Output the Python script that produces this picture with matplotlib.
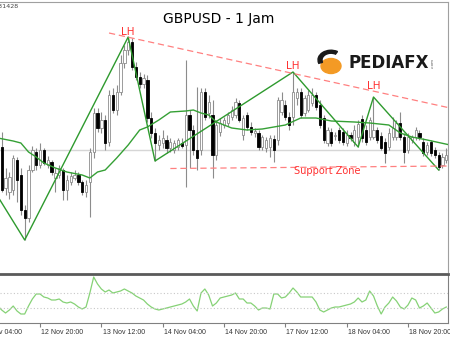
import numpy as np
import matplotlib
matplotlib.use("Agg")
import matplotlib.pyplot as plt
from matplotlib.patches import Circle, Wedge
from matplotlib.transforms import blended_transform_factory

# hourly bars, price in pips above 1.3000
bars = np.arange(6, 123)
opens = [123, 82, 78, 80, 110, 95, 60, 52, 100, 118,
         105, 120, 105, 108, 92, 95, 100, 80, 88, 92,
         95, 88, 78, 88, 118, 157, 142, 150, 128, 175,
         160, 178, 207, 220, 228, 203, 193, 186, 190, 152,
         137, 125, 127, 130, 122, 120, 123, 127, 125, 155,
         140, 120, 120, 178, 157, 155, 115, 138, 145, 147,
         153, 155, 167, 135, 155, 143, 137, 137, 123, 122,
         123, 131, 130, 158, 165, 153, 153, 172, 178, 157,
         160, 167, 175, 165, 152, 127, 138, 134, 140, 138,
         127, 135, 128, 133, 151, 140, 133, 133, 140, 134,
         128, 123, 133, 133, 147, 133, 120, 130, 133, 137,
         128, 118, 128, 120, 115, 105, 110]
highs = [138, 102, 98, 115, 113, 102, 65, 105, 124, 122,
         127, 122, 114, 110, 102, 105, 102, 95, 98, 100,
         98, 90, 90, 122, 162, 162, 158, 155, 180, 182,
         185, 215, 225, 233, 232, 208, 198, 196, 195, 158,
         142, 135, 140, 135, 132, 130, 132, 132, 210, 160,
         145, 183, 182, 182, 175, 170, 150, 152, 153, 158,
         164, 172, 170, 155, 158, 148, 142, 140, 135, 133,
         135, 135, 173, 178, 170, 158, 198, 182, 182, 175,
         180, 182, 178, 170, 155, 143, 142, 138, 143, 142,
         140, 138, 145, 150, 155, 145, 153, 173, 143, 138,
         132, 142, 153, 150, 158, 137, 137, 135, 143, 140,
         132, 128, 130, 123, 118, 117, 122]
lows = [78, 75, 71, 75, 68, 55, 30, 48, 98, 100,
        102, 105, 102, 95, 78, 92, 70, 70, 85, 90,
        85, 75, 73, 53, 112, 138, 137, 120, 124, 157,
        155, 175, 202, 215, 200, 190, 182, 182, 148, 132,
        109, 120, 122, 117, 118, 117, 120, 122, 83, 102,
        115, 100, 115, 150, 152, 92, 110, 134, 142, 144,
        150, 152, 148, 130, 140, 135, 133, 120, 120, 118,
        113, 108, 125, 155, 150, 140, 145, 165, 152, 154,
        158, 164, 160, 142, 127, 124, 124, 130, 127, 125,
        124, 129, 124, 123, 128, 125, 130, 131, 127, 120,
        107, 120, 130, 130, 130, 107, 117, 127, 130, 130,
        114, 115, 114, 112, 100, 102, 107]
closes = [80, 92, 93, 112, 90, 60, 52, 100, 120, 105,
          120, 107, 110, 98, 97, 102, 80, 90, 94, 95,
          88, 78, 85, 118, 157, 142, 150, 127, 175, 160,
          178, 207, 220, 228, 203, 193, 186, 192, 152, 137,
          127, 130, 132, 122, 128, 127, 130, 124, 155, 140,
          120, 112, 178, 153, 168, 115, 145, 147, 150, 155,
          160, 168, 150, 152, 143, 138, 139, 123, 133, 130,
          132, 120, 170, 170, 153, 145, 178, 178, 155, 172,
          175, 175, 163, 145, 130, 140, 127, 135, 130, 128,
          135, 132, 140, 146, 132, 128, 150, 140, 130, 122,
          117, 137, 142, 147, 133, 118, 133, 133, 140, 133,
          117, 125, 117, 115, 103, 113, 115]

# moving average and zigzag (bar, pips)
ma_idx = [5, 9, 11, 13, 15, 17, 20, 23, 27, 29, 31, 33, 36, 39, 42, 44, 47, 50, 54,
          56, 58, 60, 62, 66, 70, 74, 80, 84, 88, 92, 98, 102, 107, 110, 113, 117, 123]
ma_val = [132, 129, 127, 118, 113, 107, 102, 98, 95, 92, 98, 100, 112, 125, 140, 143, 150, 158, 159,
          160, 157, 155, 148, 142, 140, 141, 145, 152, 152, 149, 148, 147, 145, 137, 133, 130, 125]
zz_idx = [2, 12, 39, 46, 82, 99, 103, 120]
zz_val = [92, 30, 233, 109, 198, 123, 173, 100]

trend_idx = [34, 123]
trend_val = [237, 162]
support_idx = [50, 123]
support_val = [101.5, 104]
lh_idx = [39, 82, 103]
lh_val = [238, 204, 184]
last_price = 120

# lower oscillator, bars 5..122
osc = [17, 13, 10, 13, 17, 12, 9, 9, 17, 24, 29, 29, 26, 25, 23, 23, 24, 21, 20, 21,
       19, 16, 14, 16, 30, 46, 39, 34, 31, 33, 30, 31, 32, 34, 32, 30, 27, 25, 23, 19,
       16, 14, 13, 14, 15, 16, 17, 18, 19, 21, 24, 17, 12, 30, 34, 28, 17, 20, 25, 26,
       27, 28, 30, 24, 24, 20, 20, 17, 13, 15, 15, 14, 29, 29, 25, 26, 30, 35, 31, 26,
       26, 26, 26, 21, 13, 11, 13, 15, 16, 16, 17, 18, 19, 21, 25, 21, 23, 32, 27, 17,
       9, 16, 20, 26, 22, 16, 14, 18, 25, 23, 15, 17, 20, 15, 10, 11, 14, 16]
osc_bars = np.arange(5, 123)
osc_levels = [15, 30]

tick_bars = [0, 16, 32, 48, 64, 80, 96, 112]
tick_labels = ["12 Nov 04:00", "12 Nov 20:00", "13 Nov 12:00", "14 Nov 04:00",
               "14 Nov 20:00", "17 Nov 12:00", "18 Nov 04:00", "18 Nov 20:00"]

W, H = 450, 338
def fx(x): return x / W
def fy(y): return 1 - y / H

fig = plt.figure(figsize=(4.5, 3.38), dpi=100)
ax = fig.add_axes([0, fy(272), fx(448), (272 - 2) / H])
ax2 = fig.add_axes([0, fy(323), fx(448), (323 - 274) / H])
xmin, xmax = 21.3 / 3.833, (448 + 21.3) / 3.833

o = np.array(opens); h = np.array(highs); l = np.array(lows); c = np.array(closes)
up = c >= o
ax.axhline(last_price, color="#d6d6d6", lw=1, zorder=0)
ax.vlines(bars, l, h, color="#8c8c8c", lw=0.8, zorder=1)
body = np.maximum(np.abs(c - o), 0.8)
ax.bar(bars[up], body[up], 0.6, bottom=np.minimum(o, c)[up], color="white",
       edgecolor="#8c8c8c", lw=0.6, zorder=2)
ax.bar(bars[~up], body[~up], 0.6, bottom=np.minimum(o, c)[~up], color="black",
       edgecolor="black", lw=0.6, zorder=2)

ax.plot(ma_idx, ma_val, color="#35a035", lw=1.0, zorder=3)
ax.plot(zz_idx, zz_val, color="#2e9a2e", lw=1.0, zorder=3)
ax.plot(trend_idx, trend_val, color="#ff8080", lw=0.9, ls=(0, (5, 3)), zorder=3)
ax.plot(support_idx, support_val, color="#ff8080", lw=0.9, ls=(0, (5, 3)), zorder=3)
for i, v in zip(lh_idx, lh_val):
    ax.text(i, v, "LH", color="#ff3030", fontsize=7.5, ha="center", va="center", zorder=4)
ax.text(91, 99, "Support Zone", color="#ff3030", fontsize=7, ha="center", va="center", zorder=4)

ax.set_xlim(xmin, xmax)
ax.set_ylim(-2, 268)
ax.set_xticks([]); ax.set_yticks([])
for s in ["left", "bottom"]:
    ax.spines[s].set_visible(False)
for s in ["top", "right"]:
    ax.spines[s].set_color("#a0a0a0")

ax2.plot(osc_bars, osc, color="#86d276", lw=0.9)
for lv in osc_levels:
    ax2.axhline(lv, color="#c8c8c8", lw=0.8, ls=(0, (1, 2)))
ax2.set_yticks([])
ax2.spines["left"].set_visible(False)
ax2.spines["top"].set_color("#5a5a5a")
ax2.spines["top"].set_linewidth(2)
ax2.spines["bottom"].set_color("#808080")
ax2.spines["right"].set_color("#808080")
ax2.set_xticks(tick_bars)
ax2.set_xticklabels([])
ax2.tick_params(axis="x", length=3, color="#808080")
ax2.set_xlim(xmin, xmax)
ax2.set_ylim(0, 49)
tr = blended_transform_factory(ax2.transData, ax2.transAxes)
for b, lab in zip(tick_bars, tick_labels):
    ax2.text(b + 0.3, -0.12, lab, transform=tr, ha="left", va="top", fontsize=5.0,
             family="Liberation Sans", color="#333333", clip_on=False)

fig.text(fx(219), fy(19), "GBPUSD - 1 Jam", fontsize=10, ha="center", va="center")
fig.text(fx(18.5), fy(6), "1.31428", fontsize=4.6, ha="right", va="center", color="#444444")

# logo
fig.patches.append(Circle((fx(331), fy(66)), 10 / W, transform=fig.transFigure,
                          color="#f39a25"))
fig.patches.append(Wedge((fx(331), fy(60)), 13 / W, 60, 200, width=4 / W,
                         transform=fig.transFigure, color="#1a1a1a"))
fig.text(fx(349), fy(63), "PEDIAFX", fontsize=12, fontweight="bold", ha="left",
         va="center", color="#1a1a1a")
fig.text(fx(433), fy(63), ".com", fontsize=3, rotation=90, ha="center", va="center",
         color="#555555")

fig.savefig("out.png", dpi=100)
